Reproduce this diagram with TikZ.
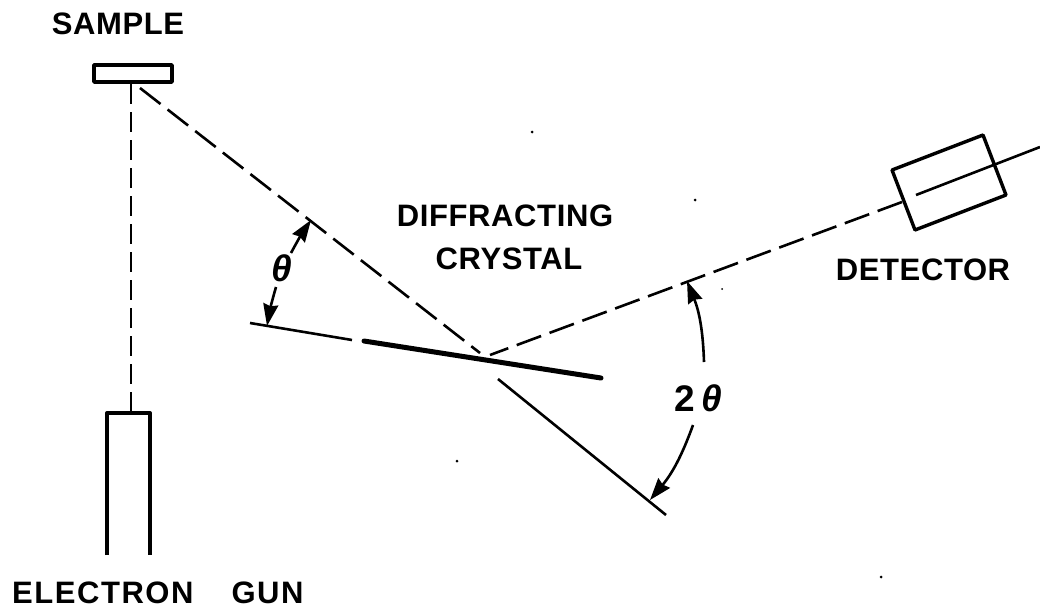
\documentclass[tikz,border=0pt]{standalone}
\usepackage{fontspec}
\setmainfont{Liberation Sans}[LetterSpace=2]
\usetikzlibrary{arrows.meta}
\tikzset{
  x=1pt,y=-1pt,
  thinline/.style={line width=2.6pt,black},
  boxline/.style={line width=3.4pt,black,line join=round},
  beam/.style={line width=2.6pt,black,dash pattern=on 26pt off 9pt},
  beamv/.style={line width=2.8pt,black,dash pattern=on 20pt off 8pt},
  crystal/.style={line width=5pt,black,line cap=round},
  dim/.style={line width=2.6pt,black,-{Stealth[length=22pt,width=15pt,inset=2pt]}},
  lab/.style={font=\fontsize{31}{33}\selectfont\bfseries,inner sep=0pt,anchor=center,black},
  sym/.style={font=\fontsize{37}{39}\selectfont\bfseries,inner sep=0pt,anchor=center,black},
  speck/.style={fill=black,circle,inner sep=0pt,minimum size=3pt}
}
\begin{document}
\begin{tikzpicture}
\useasboundingbox (0,0) rectangle (1040,611);
\node[lab] (samplelab) at (118,24) {SAMPLE};
\node[lab] (difflab) at (505,216) {DIFFRACTING};
\node[lab] (crystlab) at (509,259) {CRYSTAL};
\node[lab] (detlab) at (923,270) {DETECTOR};
\node[lab,anchor=west] (gunlab) at (12,593) {\addfontfeature{LetterSpace=5}ELECTRON\hspace{38pt}GUN};
\node[sym] (th) at (282,268) {\itshape θ};
\node[sym] (tth) at (698,398) {2\,\itshape θ};
% sample
\draw[boxline] (94,65) rectangle (172,82);
\coordinate (samplev) at (131,84);
\coordinate (sampled) at (140,88);
% electron gun
\coordinate (gunA) at (107,555); \coordinate (gunB) at (107,413);
\coordinate (gunC) at (150,413); \coordinate (gunD) at (150,555);
\draw[boxline] (gunA) -- (gunB) -- (gunC) -- (gunD);
\draw[beamv] (samplev) -- (131,412);
% rays
\coordinate (hit) at (480,353);
\coordinate (hitb) at (490,355);
\draw[beam] (sampled) -- (hit);
\coordinate (detin) at (902,202);
\draw[beam] (detin) -- (hitb);
% crystal
\coordinate (refl) at (250,323); \coordinate (reflend) at (352,340);
\draw[thinline] (refl) -- (reflend);
\coordinate (cA) at (364,341); \coordinate (cB) at (601,378);
\draw[crystal] (cA) -- (cB);
% extension of incident ray
\coordinate (extA) at (498,379); \coordinate (extB) at (666,515);
\draw[thinline] (extA) -- (extB);
% detector
\coordinate (d1) at (892,170); \coordinate (d2) at (983,135);
\coordinate (d3) at (1006,195); \coordinate (d4) at (915,230);
\draw[boxline] (d1) -- (d2) -- (d3) -- (d4) -- cycle;
\coordinate (detaxis) at (916,195); \coordinate (detout) at (1040,147);
\draw[thinline] (detaxis) -- (detout);
% angle arrows
\coordinate (t1) at (311,220); \coordinate (t2) at (267,326);
\draw[dim] (291,253) to[bend left=3] (t1);
\draw[dim] (276,287) to[bend left=-3] (t2);
\coordinate (u1) at (687,281); \coordinate (u2) at (650,500);
\draw[dim] (704,362) to[bend right=10] (u1);
\draw[dim] (693,425) to[bend left=10] (u2);
% specks
\node[speck] (s1) at (695,200) {};
\node[speck,minimum size=2pt] (s2) at (722,289) {};
\node[speck] (s3) at (532,132) {};
\node[speck] (s4) at (457,461) {};
\node[speck] (s5) at (881,577) {};
\end{tikzpicture}
\end{document}
